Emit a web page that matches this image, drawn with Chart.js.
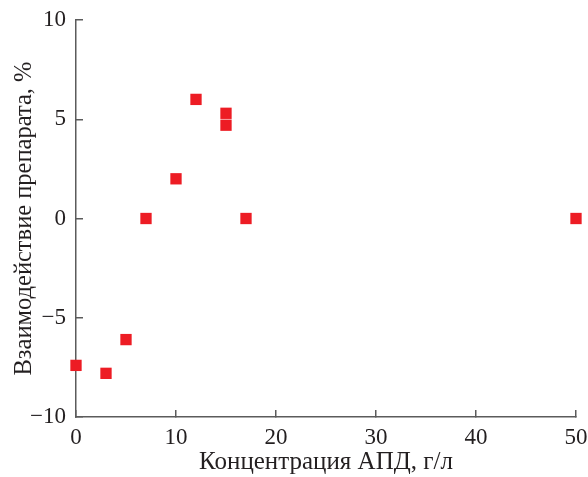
<!DOCTYPE html>
<html>
<head>
    <title>Взаимодействие препарата</title>
    <script src="https://cdn.jsdelivr.net/npm/chart.js"></script>
    <style>
        body {
            margin: 0;
            background: white;
        }
    </style>
</head>
<body>
    <canvas id="myChart" width="588" height="477"></canvas>
    <script>
        // data
        const concentration = [0, 3, 5, 7, 10, 12, 15, 15, 17, 50];
        const interaction = [-7.4, -7.8, -6.1, 0, 2, 6, 5.3, 4.7, 0, 0];

        const xTitle = 'Концентрация АПД, г/л';
        const yTitle = 'Взаимодействие препарата, %';

        const axisColor = '#5b5b5b';
        const textColor = '#231f20';
        const serif = '"Liberation Serif", "DejaVu Serif", serif';

        const points = concentration.map((x, i) => ({ x: x, y: interaction[i] }));

        // minus sign like in the print
        const minus = v => String(v).replace('-', '\u2212');

        const ctx = document.getElementById('myChart').getContext('2d');
        new Chart(ctx, {
            type: 'scatter',
            data: {
                datasets: [{
                    data: points,
                    pointStyle: 'rect',
                    pointRadius: 8,
                    pointHoverRadius: 8,
                    pointBorderWidth: 0,
                    backgroundColor: '#ed1c24',
                    borderColor: '#ed1c24',
                    clip: false
                }]
            },
            options: {
                responsive: false,
                animation: false,
                layout: {
                    padding: { top: 20, right: 12, left: 0, bottom: 0 }
                },
                plugins: {
                    legend: { display: false },
                    tooltip: { enabled: false }
                },
                scales: {
                    x: {
                        type: 'linear',
                        min: 0,
                        max: 50,
                        afterFit: s => {
                            s.height = 60;
                            s.paddingLeft = 0;
                            s.paddingRight = 0;
                        },
                        border: { color: axisColor, width: 1.5 },
                        grid: {
                            drawOnChartArea: false,
                            drawTicks: true,
                            tickLength: -7,
                            color: axisColor,
                            lineWidth: 1.5
                        },
                        ticks: {
                            stepSize: 10,
                            padding: 14,
                            color: textColor,
                            font: { family: serif, size: 23 },
                            callback: minus
                        },
                        title: {
                            display: true,
                            text: xTitle,
                            color: textColor,
                            font: { family: serif, size: 25 },
                            padding: { top: 0, bottom: 0 }
                        }
                    },
                    y: {
                        type: 'linear',
                        min: -10,
                        max: 10,
                        afterFit: s => {
                            s.width = 76;
                            s.paddingTop = 0;
                            s.paddingBottom = 0;
                        },
                        border: { color: axisColor, width: 1.5 },
                        grid: {
                            drawOnChartArea: false,
                            drawTicks: true,
                            tickLength: -7,
                            color: axisColor,
                            lineWidth: 1.5
                        },
                        ticks: {
                            stepSize: 5,
                            padding: 17,
                            color: textColor,
                            font: { family: serif, size: 23 },
                            callback: minus
                        },
                        title: {
                            display: true,
                            text: yTitle,
                            color: textColor,
                            font: { family: serif, size: 24.5 },
                            padding: { top: 10, bottom: 0 }
                        }
                    }
                }
            }
        });
    </script>
</body>
</html>
